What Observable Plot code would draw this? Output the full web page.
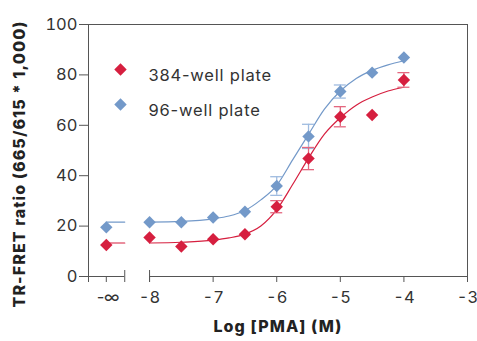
<!DOCTYPE html>
<html><head><meta charset="utf-8">
<script src="https://cdn.jsdelivr.net/npm/d3@7"></script>
<script src="https://cdn.jsdelivr.net/npm/@observablehq/plot@0.6"></script>
<style>
body{margin:0;background:#fff}
#wrap{position:relative;width:477px;height:341px}
#ytitle{position:absolute;left:19px;top:164px;transform:translate(-50%,-50%) rotate(-90deg);white-space:nowrap;font-family:Inter,sans-serif;font-weight:800;font-size:16px;letter-spacing:1.1px;color:#222}
</style>
</head><body><div id="wrap"><div id="chart"></div><div id="ytitle"></div></div>
<script>
const seriesNames = ["384-well plate", "96-well plate"];
const yTitle = "TR-FRET ratio (665/615 * 1,000)";
const xTitle = "Log [PMA] (M)";
const NEG_INF = -8.68;
const xTicks = [-8.96, NEG_INF, -8, -7, -6, -5, -4, -3];
const xLabels = ["", "-\u221e", "-8", "-7", "-6", "-5", "-4", "-3"];
const yTicks = [0, 20, 40, 60, 80, 100];
const breakTicks = [-8.39, -8];
const pointX = [NEG_INF, -8, -7.5, -7, -6.5, -6, -5.5, -5, -4.5, -4];
const red384 = [12.5, 15.5, 11.9, 14.8, 16.8, 27.7, 46.8, 63.4, 64.1, 78.0];
const blue96 = [19.5, 21.5, 21.5, 23.4, 25.7, 35.9, 55.6, 73.4, 80.9, 86.9];
const red384Err = [0, 0, 0, 0, 0, 2.4, 4.4, 4.0, 0, 2.9];
const blue96Err = [0, 0, 0, 0, 0, 3.7, 4.8, 2.6, 0, 0];
const fitX = [-8, -7.5, -7, -6.75, -6.5, -6.25, -6, -5.75, -5.5, -5.25, -5, -4.75, -4.5, -4.25, -4];
const red384Fit = [13.3, 13.6, 14.4, 15.3, 16.8, 20.0, 26.5, 36.5, 47.0, 56.5, 63.0, 68.0, 71.2, 73.6, 75.1];
const blue96Fit = [21.6, 21.9, 22.9, 24.0, 26.2, 30.4, 36.2, 46.3, 56.4, 66.4, 73.6, 78.6, 81.8, 84.0, 85.6];
const stubX = [NEG_INF, -8.39];
const red384Base = 13.3, blue96Base = 21.6;

const RED = "#d61f3f", BLUE = "#7399c9";
const RED_ERR = "#e4677f", BLUE_ERR = "#9fbbe0";
const INK = "#333333", AXIS = "#555555";
const xDomain = [-8.96, -3];

const pts = (ys, es) => pointX.map((x, i) => ({x, y: ys[i], e: es[i]}));
const redPts = pts(red384, red384Err), bluePts = pts(blue96, blue96Err);
const fit = (ys) => fitX.map((x, i) => ({x, y: ys[i]}));
const stub = (v) => stubX.map(x => ({x, y: v}));
const errs = (p) => p.filter(d => d.e > 0);
const errMarks = (p, c) => [
  Plot.ruleX(errs(p), {x: "x", y1: d => d.y - d.e, y2: d => d.y + d.e, stroke: c, strokeWidth: 1.3}),
  Plot.ruleY(errs(p), {y: d => d.y + d.e, x1: "x", x2: "x", insetLeft: -6, insetRight: -6, stroke: c, strokeWidth: 1.3}),
  Plot.ruleY(errs(p), {y: d => d.y - d.e, x1: "x", x2: "x", insetLeft: -6, insetRight: -6, stroke: c, strokeWidth: 1.3})
];

const chart = Plot.plot({
  width: 477, height: 341,
  marginLeft: 88, marginRight: 10, marginTop: 24, marginBottom: 65,
  style: {fontFamily: "Inter, sans-serif", fontSize: "16px", color: INK, background: "#fff"},
  x: {domain: xDomain},
  y: {domain: [0, 100]},
  marks: [
    Plot.ruleY([100], {stroke: AXIS}),
    Plot.ruleX([xDomain[0], xDomain[1]], {stroke: AXIS}),
    Plot.ruleY([{x1: xDomain[0], x2: breakTicks[0]}, {x1: breakTicks[1], x2: xDomain[1]}], {y: 0, x1: "x1", x2: "x2", stroke: AXIS}),
    Plot.ruleX(breakTicks, {x: d => d, y1: 0, y2: 0, insetTop: -6, insetBottom: -6, stroke: AXIS}),
    Plot.axisY({ticks: yTicks, tickSize: 9, tickPadding: 2, stroke: AXIS, fontSize: 16.5, fill: INK, label: null}),
    Plot.axisX({ticks: xTicks, tickFormat: (d) => xLabels[xTicks.indexOf(d)], tickSize: 6, tickPadding: 9, stroke: AXIS, fontSize: 16.5, fill: INK, label: null}),
    Plot.line(stub(blue96Base), {x: "x", y: "y", stroke: BLUE, strokeWidth: 1.2}),
    Plot.line(stub(red384Base), {x: "x", y: "y", stroke: RED, strokeWidth: 1.2}),
    Plot.line(fit(blue96Fit), {x: "x", y: "y", stroke: BLUE, strokeWidth: 1.2, curve: "monotone-x"}),
    Plot.line(fit(red384Fit), {x: "x", y: "y", stroke: RED, strokeWidth: 1.2, curve: "monotone-x"}),
    ...errMarks(bluePts, BLUE_ERR),
    ...errMarks(redPts, RED_ERR),
    Plot.dot(bluePts, {x: "x", y: "y", symbol: "diamond2", r: 5.6, fill: BLUE}),
    Plot.dot(redPts, {x: "x", y: "y", symbol: "diamond2", r: 5.6, fill: RED}),
    // legend
    Plot.dot([seriesNames[0]], {frameAnchor: "top-left", dx: 32, dy: 45, symbol: "diamond2", r: 5.6, fill: RED}),
    Plot.dot([seriesNames[1]], {frameAnchor: "top-left", dx: 32, dy: 80, symbol: "diamond2", r: 5.6, fill: BLUE}),
    Plot.text([seriesNames[0]], {text: d => d, frameAnchor: "top-left", dx: 60, dy: 45, textAnchor: "start", fontSize: 16.5, fill: INK}),
    Plot.text([seriesNames[1]], {text: d => d, frameAnchor: "top-left", dx: 60, dy: 80, textAnchor: "start", fontSize: 16.5, fill: INK}),
    // x axis title
    Plot.text([xTitle], {text: d => d, frameAnchor: "bottom", dy: 55, fontSize: 16, fontWeight: 800, fill: "#222"})
  ]
});
chart.querySelectorAll("text").forEach(t => {
  const s = t.textContent;
  if (seriesNames.includes(s)) t.style.letterSpacing = "0.8px";
  if (s === xTitle) t.style.letterSpacing = "1.1px";
  if (s === xLabels[1]) { t.style.letterSpacing = "-2px"; }
});
document.getElementById("chart").append(chart);
document.getElementById("ytitle").textContent = yTitle;
</script>
</body></html>
